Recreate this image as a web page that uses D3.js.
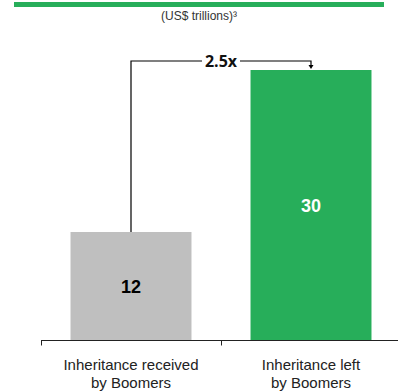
<!DOCTYPE html>
<html><head><meta charset="utf-8">
<script src="https://cdn.jsdelivr.net/npm/d3@7"></script>
<style>body{margin:0;background:#fff}svg{display:block}</style>
</head><body>
<script>
const categories = ["Inheritance received\nby Boomers", "Inheritance left\nby Boomers"];
const values = [12, 30];
const colors = ["#bfbfbf", "#27ae5a"];
const labelColors = ["#000", "#fff"];
const multipleLabel = "2.5x";
const subtitle = "(US$ trillions)³";

const W = 398, H = 391;
const svg = d3.select("body").append("svg").attr("width", W).attr("height", H);

svg.append("rect").attr("x", 14).attr("y", 2).attr("width", 370).attr("height", 5).attr("fill", "#27ae5a");
svg.append("text").attr("x", 199).attr("y", 20).attr("text-anchor", "middle")
  .attr("font-family", "Liberation Sans, Arial, sans-serif").attr("font-size", 12).attr("fill", "#333")
  .text(subtitle);

const x = d3.scaleBand().domain(categories).range([41, 401]).paddingInner(0.328).paddingOuter(0.164);
const y = d3.scaleLinear().domain([0, 30]).range([340, 70]);

svg.selectAll("rect.bar").data(values).join("rect").attr("class", "bar")
  .attr("x", (d, i) => x(categories[i])).attr("width", x.bandwidth())
  .attr("y", d => y(d)).attr("height", d => y(0) - y(d))
  .attr("fill", (d, i) => colors[i]);

svg.selectAll("text.val").data(values).join("text").attr("class", "val")
  .attr("x", (d, i) => x(categories[i]) + x.bandwidth() / 2)
  .attr("y", d => (y(d) + y(0)) / 2 + 6.5)
  .attr("text-anchor", "middle").attr("font-family", "Liberation Sans, Arial, sans-serif")
  .attr("font-weight", "bold").attr("font-size", 18)
  .attr("fill", (d, i) => labelColors[i]).text(d => d);

// axis
const axisG = svg.append("g").attr("transform", `translate(0,${y(0) + 0.5})`);
axisG.append("line").attr("x1", 41).attr("x2", 401).attr("stroke", "#222").attr("stroke-width", 1);
[41, 221, 401].forEach(t => axisG.append("line").attr("x1", t + 0.5).attr("x2", t + 0.5).attr("y1", 0).attr("y2", 5).attr("stroke", "#222"));

categories.forEach(c => {
  const lines = c.split("\n");
  const t = svg.append("text").attr("text-anchor", "middle")
    .attr("font-family", "Liberation Sans, Arial, sans-serif").attr("font-size", 15).attr("fill", "#222");
  lines.forEach((l, j) => t.append("tspan").attr("x", x(c) + x.bandwidth() / 2).attr("y", 369.5 + j * 18.5).text(l));
});

// bracket
const x1 = x(categories[0]) + x.bandwidth() / 2, x2 = x(categories[1]) + x.bandwidth() / 2;
const by = 61;
svg.append("path").attr("d", `M${x1},${y(values[0])}V${by}H${x2}V${y(values[1]) - 3}`)
  .attr("fill", "none").attr("stroke", "#000").attr("stroke-width", 1.2);
svg.append("path").attr("d", `M${x2 - 2.5},${y(values[1]) - 5}L${x2 + 2.5},${y(values[1]) - 5}L${x2},${y(values[1]) - 1}Z`).attr("fill", "#000");
const mid = (x1 + x2) / 2;
svg.append("rect").attr("x", mid - 19).attr("y", by - 8).attr("width", 38).attr("height", 16).attr("fill", "#fff");
svg.append("text").attr("x", mid).attr("y", by + 5.5).attr("text-anchor", "middle")
  .attr("font-family", "Open Sans, DejaVu Sans, sans-serif").attr("font-weight", "bold").attr("font-size", 16)
  .attr("fill", "#111").text(multipleLabel);
</script>
</body></html>
